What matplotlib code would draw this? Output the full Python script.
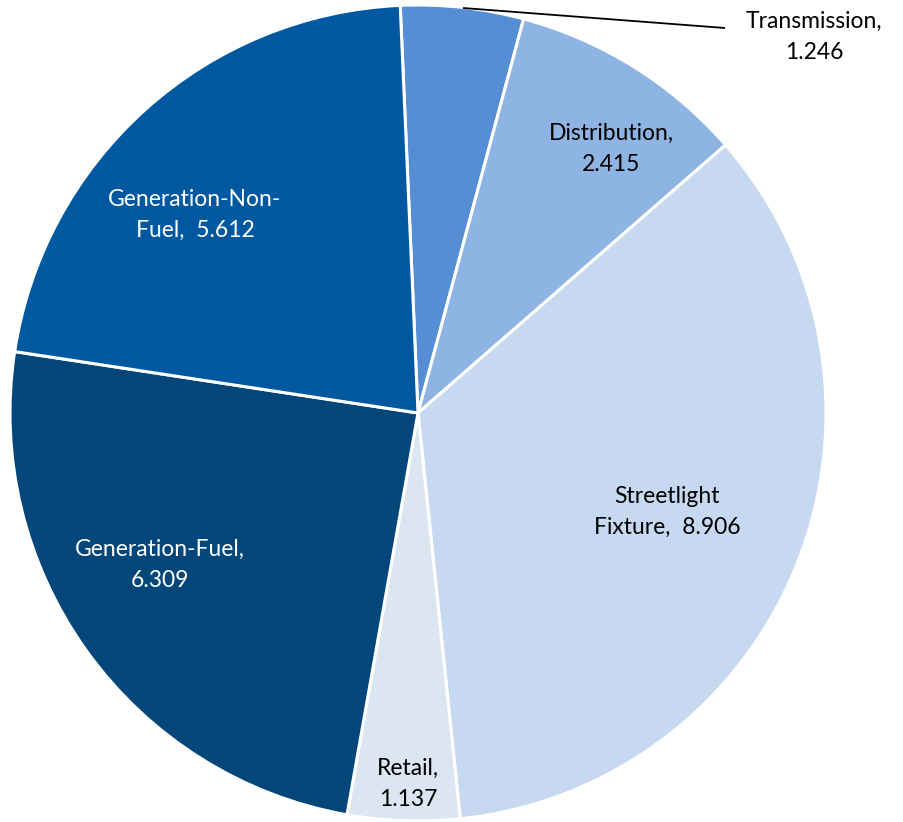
import matplotlib
matplotlib.use("Agg")
import matplotlib.pyplot as plt

# slices, clockwise from the top
labels = ["Transmission", "Distribution", "Streetlight\nFixture", "Retail",
          "Generation-Fuel", "Generation-Non-\nFuel"]
values = [1.246, 2.415, 8.906, 1.137, 6.309, 5.612]
colors = ["#558ED5", "#8EB4E3", "#C6D9F1", "#DCE6F2", "#02467A", "#0059A0"]

# label text as shown on the chart
label_text = ["Transmission,\n1.246", "Distribution,\n2.415", "Streetlight\nFixture,  8.906",
              "Retail,\n1.137", "Generation-Fuel,\n6.309", "Generation-Non-\nFuel,  5.612"]
label_pos = [(814, 37), (611, 149), (667, 512), (408, 784), (160, 565), (195, 215)]
label_color = ["black", "black", "black", "black", "white", "white"]

W, H = 904, 822
fig = plt.figure(figsize=(W / 100, H / 100), dpi=100)
ax = fig.add_axes([0, 0, 1, 1])

# y axis is inverted (pixel-like), so counterclock=True runs clockwise on screen
cx, cy, r = 418, 413, 408
wedges, _ = ax.pie(values, colors=colors, startangle=-92.5, counterclock=True,
                   center=(cx, cy), radius=r, frame=True,
                   wedgeprops=dict(edgecolor="white", linewidth=2.2))
ax.set_xlim(0, W)
ax.set_ylim(H, 0)
ax.axis("off")
ax.set_aspect("equal")

for txt, (x, y), c in zip(label_text, label_pos, label_color):
    ax.text(x, y, txt, ha="center", va="center", color=c,
            fontsize=16.5, family="Lato", linespacing=1.62)

# leader line for the Transmission label
ax.plot([463, 725], [8, 28], color="black", lw=1.3, solid_capstyle="butt")

fig.savefig("out.png", dpi=100)
